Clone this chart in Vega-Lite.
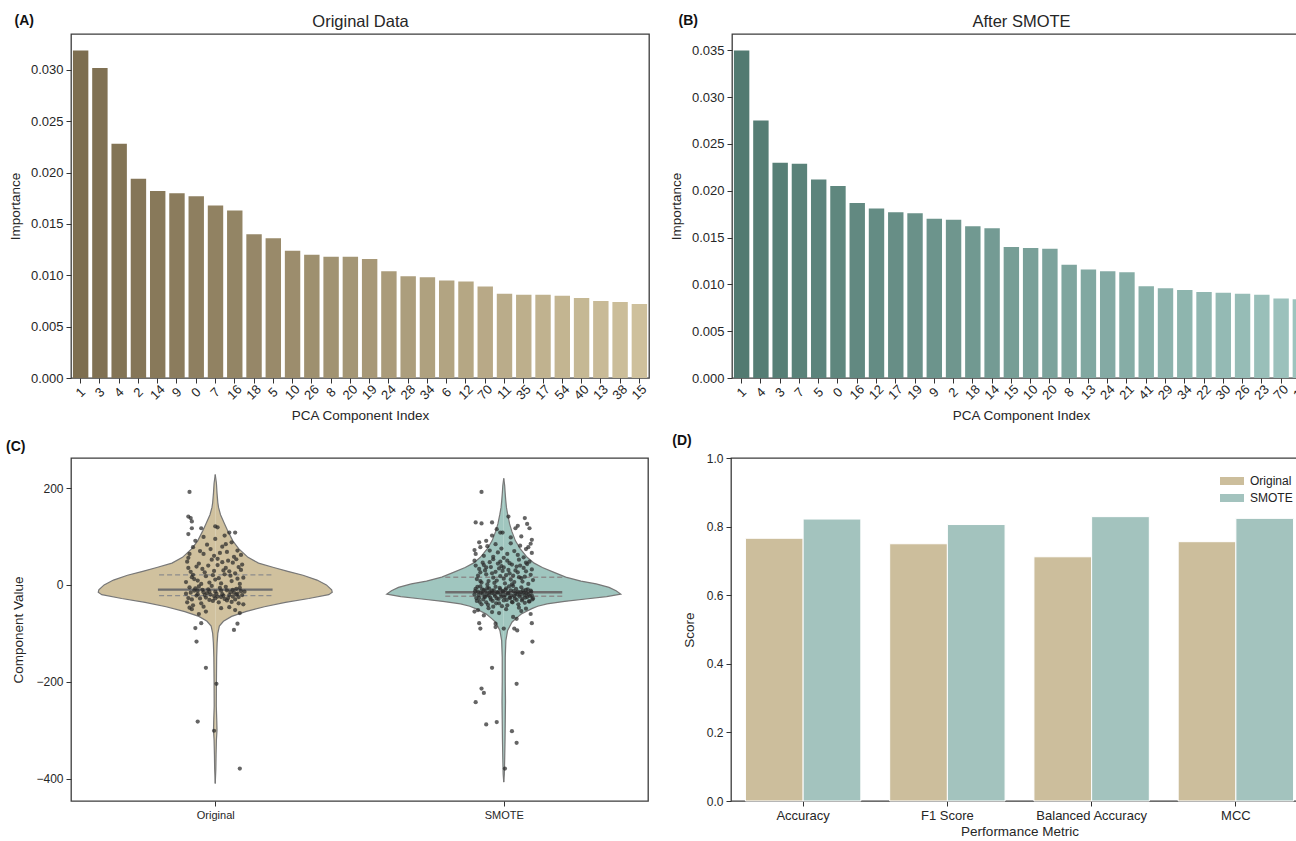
{
"$schema": "https://vega.github.io/schema/vega-lite/v6.json",
"background": "white",
"padding": {"left": 5, "top": 12, "right": 0, "bottom": 0},
"config": {
 "font": "Liberation Sans",
 "view": {"stroke": "#3d3d3d", "strokeWidth": 1.3},
 "axis": {"grid": false, "domain": false, "ticks": true, "tickColor": "#333", "tickSize": 5, "tickWidth": 1, "labelColor": "#262626", "titleColor": "#262626", "labelFontSize": 13, "titleFontSize": 13.5, "titleFontWeight": "normal", "labelPadding": 3},
 "title": {"color": "#111"}
},
"datasets": {
 "fa": [{"pc":"1","imp":0.0319},{"pc":"3","imp":0.0302},{"pc":"4","imp":0.0228},{"pc":"2","imp":0.0194},{"pc":"14","imp":0.0182},{"pc":"9","imp":0.0180},{"pc":"0","imp":0.0177},{"pc":"7","imp":0.0168},{"pc":"16","imp":0.0163},{"pc":"18","imp":0.0140},{"pc":"5","imp":0.0136},{"pc":"10","imp":0.0124},{"pc":"26","imp":0.0120},{"pc":"8","imp":0.0118},{"pc":"20","imp":0.0118},{"pc":"19","imp":0.0116},{"pc":"24","imp":0.0104},{"pc":"28","imp":0.0099},{"pc":"34","imp":0.0098},{"pc":"6","imp":0.0095},{"pc":"12","imp":0.0094},{"pc":"70","imp":0.0089},{"pc":"11","imp":0.0082},{"pc":"35","imp":0.0081},{"pc":"17","imp":0.0081},{"pc":"54","imp":0.0080},{"pc":"40","imp":0.0078},{"pc":"13","imp":0.0075},{"pc":"38","imp":0.0074},{"pc":"15","imp":0.0072}],
 "fb": [{"pc":"1","imp":0.0350},{"pc":"4","imp":0.0275},{"pc":"3","imp":0.0230},{"pc":"7","imp":0.0229},{"pc":"5","imp":0.0212},{"pc":"0","imp":0.0205},{"pc":"16","imp":0.0187},{"pc":"12","imp":0.0181},{"pc":"17","imp":0.0177},{"pc":"19","imp":0.0176},{"pc":"9","imp":0.0170},{"pc":"2","imp":0.0169},{"pc":"18","imp":0.0162},{"pc":"14","imp":0.0160},{"pc":"15","imp":0.0140},{"pc":"10","imp":0.0139},{"pc":"20","imp":0.0138},{"pc":"8","imp":0.0121},{"pc":"13","imp":0.0116},{"pc":"24","imp":0.0114},{"pc":"21","imp":0.0113},{"pc":"41","imp":0.0098},{"pc":"29","imp":0.0096},{"pc":"34","imp":0.0094},{"pc":"22","imp":0.0092},{"pc":"30","imp":0.0091},{"pc":"26","imp":0.0090},{"pc":"23","imp":0.0089},{"pc":"70","imp":0.0085},{"pc":"11","imp":0.0084}],
 "vO": [{"v":228,"w":0},{"v":210,"w":0.01},{"v":190,"w":0.015},{"v":170,"w":0.022},{"v":160,"w":0.028},{"v":145,"w":0.045},{"v":126,"w":0.08},{"v":110,"w":0.11},{"v":91,"w":0.15},{"v":75,"w":0.2},{"v":57,"w":0.28},{"v":45,"w":0.37},{"v":36,"w":0.5},{"v":28,"w":0.62},{"v":20,"w":0.75},{"v":10,"w":0.87},{"v":0,"w":0.95},{"v":-10,"w":0.995},{"v":-15,"w":1.0},{"v":-20,"w":0.97},{"v":-28,"w":0.8},{"v":-36,"w":0.6},{"v":-45,"w":0.42},{"v":-55,"w":0.26},{"v":-65,"w":0.14},{"v":-75,"w":0.07},{"v":-85,"w":0.035},{"v":-100,"w":0.022},{"v":-120,"w":0.016},{"v":-150,"w":0.012},{"v":-200,"w":0.01},{"v":-250,"w":0.009},{"v":-280,"w":0.013},{"v":-300,"w":0.015},{"v":-320,"w":0.01},{"v":-350,"w":0.007},{"v":-380,"w":0.005},{"v":-410,"w":0}],
 "vS": [{"v":220,"w":0},{"v":205,"w":0.008},{"v":190,"w":0.012},{"v":175,"w":0.017},{"v":160,"w":0.023},{"v":145,"w":0.034},{"v":126,"w":0.05},{"v":110,"w":0.07},{"v":91,"w":0.1},{"v":75,"w":0.14},{"v":57,"w":0.2},{"v":45,"w":0.26},{"v":36,"w":0.33},{"v":26,"w":0.43},{"v":16,"w":0.53},{"v":8,"w":0.66},{"v":2,"w":0.79},{"v":-5,"w":0.9},{"v":-12,"w":0.96},{"v":-19,"w":1.0},{"v":-24,"w":0.88},{"v":-29,"w":0.7},{"v":-34,"w":0.52},{"v":-39,"w":0.37},{"v":-44,"w":0.29},{"v":-49,"w":0.24},{"v":-60,"w":0.15},{"v":-70,"w":0.1},{"v":-77,"w":0.07},{"v":-94,"w":0.033},{"v":-115,"w":0.018},{"v":-150,"w":0.013},{"v":-200,"w":0.013},{"v":-240,"w":0.015},{"v":-280,"w":0.013},{"v":-320,"w":0.011},{"v":-360,"w":0.008},{"v":-390,"w":0.005},{"v":-407,"w":0}],
 "qO": [{"v":20.6,"w":0.48,"k":"q"},{"v":-9.6,"w":0.49,"k":"m"},{"v":-22,"w":0.48,"k":"q"}],
 "qS": [{"v":15.8,"w":0.5,"k":"q"},{"v":-15,"w":0.5,"k":"m"},{"v":-23.4,"w":0.5,"k":"q"}],
 "pO": [{"j":-0.24,"v":48},{"j":-0.18,"v":12},{"j":-0.11,"v":33},{"j":-0.05,"v":5},{"j":0.02,"v":41},{"j":0.08,"v":22},{"j":0.14,"v":8},{"j":0.2,"v":37},{"j":0.24,"v":15},{"j":-0.21,"v":27},{"j":-0.14,"v":44},{"j":-0.08,"v":18},{"j":-0.01,"v":29},{"j":0.05,"v":3},{"j":0.11,"v":50},{"j":0.17,"v":24},{"j":0.23,"v":42},{"j":-0.25,"v":6},{"j":-0.16,"v":38},{"j":-0.03,"v":52},{"j":0.03,"v":14},{"j":0.09,"v":35},{"j":0.15,"v":46},{"j":0.21,"v":2},{"j":-0.19,"v":21},{"j":-0.12,"v":2},{"j":-0.06,"v":40},{"j":0.0,"v":11},{"j":0.07,"v":30},{"j":0.13,"v":19},{"j":0.19,"v":13},{"j":-0.23,"v":35},{"j":-0.09,"v":26},{"j":0.12,"v":28},{"j":0.18,"v":53},{"j":-0.02,"v":20},{"j":0.06,"v":47},{"j":-0.15,"v":9},{"j":0.22,"v":31},{"j":-0.2,"v":16},
  {"j":-0.25,"v":-18},{"j":-0.22,"v":-5},{"j":-0.2,"v":-30},{"j":-0.18,"v":-12},{"j":-0.16,"v":-22},{"j":-0.14,"v":-3},{"j":-0.12,"v":-38},{"j":-0.1,"v":-15},{"j":-0.08,"v":-26},{"j":-0.06,"v":-9},{"j":-0.04,"v":-20},{"j":-0.02,"v":-33},{"j":0.0,"v":-14},{"j":0.02,"v":-24},{"j":0.04,"v":-6},{"j":0.06,"v":-19},{"j":0.08,"v":-29},{"j":0.1,"v":-11},{"j":0.12,"v":-21},{"j":0.14,"v":-35},{"j":0.16,"v":-16},{"j":0.18,"v":-8},{"j":0.2,"v":-25},{"j":0.22,"v":-13},{"j":0.24,"v":-40},{"j":-0.23,"v":-27},{"j":-0.21,"v":-16},{"j":-0.19,"v":-42},{"j":-0.17,"v":-7},{"j":-0.15,"v":-19},{"j":-0.13,"v":-28},{"j":-0.11,"v":-10},{"j":-0.09,"v":-21},{"j":-0.07,"v":-17},{"j":-0.05,"v":-31},{"j":-0.03,"v":-2},{"j":-0.01,"v":-23},{"j":0.01,"v":-18},{"j":0.03,"v":-36},{"j":0.05,"v":-12},{"j":0.07,"v":-22},{"j":0.09,"v":-4},{"j":0.11,"v":-27},{"j":0.13,"v":-15},{"j":0.15,"v":-24},{"j":0.17,"v":-30},{"j":0.19,"v":-18},{"j":0.21,"v":-6},{"j":0.23,"v":-21},{"j":0.25,"v":-14},{"j":-0.24,"v":-36},{"j":-0.1,"v":-45},{"j":0.0,"v":-28},{"j":0.1,"v":-32},{"j":0.2,"v":-38},{"j":-0.05,"v":-14},{"j":0.05,"v":-25},{"j":0.15,"v":-10},{"j":-0.15,"v":-12},{"j":0.18,"v":-20},
  {"j":-0.2,"v":-50},{"j":-0.08,"v":-55},{"j":0.05,"v":-48},{"j":0.17,"v":-52},{"j":0.21,"v":-58},{"j":-0.14,"v":-60},{"j":0.12,"v":-46},{"j":-0.22,"v":-47},
  {"j":-0.22,"v":64},{"j":-0.1,"v":64},{"j":-0.01,"v":60},{"j":0.02,"v":54},{"j":-0.04,"v":74},{"j":0.06,"v":79},{"j":0.09,"v":84},{"j":0.19,"v":71},{"j":0.14,"v":88},{"j":-0.17,"v":91},{"j":-0.19,"v":78},{"j":0.0,"v":95},{"j":0.1,"v":68},{"j":-0.07,"v":83},{"j":0.22,"v":62},{"j":-0.13,"v":70},{"j":0.04,"v":66},{"j":0.16,"v":58},{"j":-0.23,"v":56},
  {"j":-0.22,"v":192},{"j":-0.23,"v":141},{"j":-0.21,"v":138},{"j":-0.2,"v":131},{"j":-0.23,"v":105},{"j":-0.2,"v":117},{"j":-0.12,"v":117},{"j":0.0,"v":121},{"j":0.02,"v":119},{"j":0.17,"v":108},{"j":0.12,"v":108},{"j":0.08,"v":102},{"j":-0.1,"v":99},
  {"j":-0.12,"v":-79},{"j":-0.17,"v":-89},{"j":0.19,"v":-80},{"j":0.16,"v":-93},{"j":-0.16,"v":-117},{"j":-0.08,"v":-171},{"j":0.01,"v":-204},{"j":-0.15,"v":-282},{"j":-0.01,"v":-301},{"j":0.21,"v":-379}],
 "pS": [{"j":-0.19,"v":192},{"j":-0.24,"v":129},{"j":-0.19,"v":127},{"j":-0.1,"v":129},{"j":0.04,"v":141},{"j":0.18,"v":138},{"j":0.12,"v":122},{"j":0.1,"v":117},{"j":0.22,"v":117},{"j":-0.03,"v":108},{"j":-0.01,"v":108},{"j":-0.1,"v":102},{"j":0.24,"v":93},{"j":-0.15,"v":91},{"j":0.06,"v":98},{"j":0.2,"v":126},{"j":-0.06,"v":115},{"j":0.15,"v":100},
  {"j":0.21,"v":78},{"j":-0.2,"v":78},{"j":-0.07,"v":84},{"j":0.14,"v":81},{"j":-0.12,"v":71},{"j":-0.24,"v":64},{"j":0.03,"v":64},{"j":0.17,"v":57},{"j":-0.17,"v":60},{"j":-0.02,"v":75},{"j":0.09,"v":70},{"j":0.24,"v":66},{"j":-0.09,"v":58},{"j":0.06,"v":86},{"j":-0.21,"v":88},{"j":0.12,"v":62},{"j":0.19,"v":74},{"j":-0.14,"v":80},{"j":0.0,"v":56},{"j":-0.05,"v":67},{"j":0.23,"v":85},{"j":-0.25,"v":72},
  {"j":-0.25,"v":50},{"j":-0.23,"v":12},{"j":-0.21,"v":33},{"j":-0.19,"v":5},{"j":-0.17,"v":41},{"j":-0.15,"v":22},{"j":-0.13,"v":8},{"j":-0.11,"v":37},{"j":-0.09,"v":15},{"j":-0.07,"v":27},{"j":-0.05,"v":44},{"j":-0.03,"v":18},{"j":-0.01,"v":29},{"j":0.01,"v":3},{"j":0.03,"v":50},{"j":0.05,"v":24},{"j":0.07,"v":42},{"j":0.09,"v":6},{"j":0.11,"v":38},{"j":0.13,"v":52},{"j":0.15,"v":14},{"j":0.17,"v":35},{"j":0.19,"v":46},{"j":0.21,"v":2},{"j":0.23,"v":21},{"j":0.25,"v":10},{"j":-0.24,"v":40},{"j":-0.2,"v":26},{"j":-0.16,"v":30},{"j":-0.12,"v":47},{"j":-0.08,"v":4},{"j":-0.04,"v":34},{"j":0.0,"v":13},{"j":0.04,"v":31},{"j":0.08,"v":19},{"j":0.12,"v":26},{"j":0.16,"v":7},{"j":0.2,"v":43},{"j":0.24,"v":32},{"j":-0.22,"v":19},{"j":-0.18,"v":46},{"j":-0.14,"v":1},{"j":-0.1,"v":24},{"j":-0.06,"v":9},{"j":-0.02,"v":39},{"j":0.02,"v":20},{"j":0.06,"v":11},{"j":0.1,"v":30},{"j":0.14,"v":40},{"j":0.18,"v":17},{"j":0.22,"v":48},{"j":-0.09,"v":53},{"j":0.0,"v":36},{"j":0.07,"v":1},{"j":-0.2,"v":8},{"j":0.13,"v":16},{"j":-0.03,"v":48},{"j":0.19,"v":28},{"j":-0.15,"v":36},{"j":0.05,"v":45},
  {"j":-0.25,"v":-20},{"j":-0.24,"v":-8},{"j":-0.23,"v":-33},{"j":-0.22,"v":-14},{"j":-0.21,"v":-27},{"j":-0.2,"v":-3},{"j":-0.19,"v":-40},{"j":-0.18,"v":-18},{"j":-0.17,"v":-10},{"j":-0.16,"v":-25},{"j":-0.15,"v":-36},{"j":-0.14,"v":-6},{"j":-0.13,"v":-22},{"j":-0.12,"v":-15},{"j":-0.11,"v":-30},{"j":-0.1,"v":-12},{"j":-0.09,"v":-45},{"j":-0.08,"v":-19},{"j":-0.07,"v":-4},{"j":-0.06,"v":-28},{"j":-0.05,"v":-16},{"j":-0.04,"v":-38},{"j":-0.03,"v":-9},{"j":-0.02,"v":-24},{"j":-0.01,"v":-13},{"j":0.0,"v":-32},{"j":0.01,"v":-21},{"j":0.02,"v":-7},{"j":0.03,"v":-42},{"j":0.04,"v":-17},{"j":0.05,"v":-26},{"j":0.06,"v":-11},{"j":0.07,"v":-35},{"j":0.08,"v":-2},{"j":0.09,"v":-23},{"j":0.1,"v":-18},{"j":0.11,"v":-31},{"j":0.12,"v":-14},{"j":0.13,"v":-47},{"j":0.14,"v":-20},{"j":0.15,"v":-5},{"j":0.16,"v":-29},{"j":0.17,"v":-16},{"j":0.18,"v":-37},{"j":0.19,"v":-10},{"j":0.2,"v":-25},{"j":0.21,"v":-19},{"j":0.22,"v":-34},{"j":0.23,"v":-12},{"j":0.24,"v":-22},{"j":0.25,"v":-28},
  {"j":-0.245,"v":-13},{"j":-0.235,"v":-27},{"j":-0.225,"v":-4},{"j":-0.215,"v":-21},{"j":-0.205,"v":-35},{"j":-0.195,"v":-16},{"j":-0.185,"v":-9},{"j":-0.175,"v":-30},{"j":-0.165,"v":-24},{"j":-0.155,"v":-12},{"j":-0.145,"v":-19},{"j":-0.135,"v":-41},{"j":-0.125,"v":-7},{"j":-0.115,"v":-26},{"j":-0.105,"v":-17},{"j":-0.095,"v":-33},{"j":-0.085,"v":-11},{"j":-0.075,"v":-23},{"j":-0.065,"v":-38},{"j":-0.055,"v":-15},{"j":-0.045,"v":-29},{"j":-0.035,"v":-6},{"j":-0.025,"v":-20},{"j":-0.015,"v":-44},{"j":-0.005,"v":-14},{"j":0.005,"v":-25},{"j":0.015,"v":-10},{"j":0.025,"v":-31},{"j":0.035,"v":-18},{"j":0.045,"v":-3},{"j":0.055,"v":-27},{"j":0.065,"v":-22},{"j":0.075,"v":-36},{"j":0.085,"v":-13},{"j":0.095,"v":-28},{"j":0.105,"v":-8},{"j":0.115,"v":-19},{"j":0.125,"v":-40},{"j":0.135,"v":-24},{"j":0.145,"v":-15},{"j":0.155,"v":-32},{"j":0.165,"v":-11},{"j":0.175,"v":-21},{"j":0.185,"v":-26},{"j":0.195,"v":-17},{"j":0.205,"v":-9},{"j":0.215,"v":-34},{"j":0.225,"v":-23},{"j":0.235,"v":-14},{"j":0.245,"v":-30},
  {"j":-0.22,"v":-52},{"j":-0.1,"v":-56},{"j":0.02,"v":-50},{"j":0.15,"v":-54},{"j":0.23,"v":-60},{"j":-0.17,"v":-63},{"j":0.08,"v":-66},{"j":-0.04,"v":-58},{"j":0.19,"v":-49},{"j":-0.25,"v":-55},{"j":0.11,"v":-70},{"j":-0.13,"v":-48},
  {"j":-0.21,"v":-79},{"j":-0.2,"v":-90},{"j":-0.07,"v":-80},{"j":-0.07,"v":-87},{"j":0.0,"v":-90},{"j":0.09,"v":-90},{"j":0.115,"v":-94},{"j":0.24,"v":-79},{"j":0.245,"v":-117},{"j":0.16,"v":-140},{"j":-0.1,"v":-171},{"j":-0.19,"v":-214},{"j":-0.17,"v":-223},{"j":-0.24,"v":-242},{"j":0.11,"v":-204},{"j":-0.06,"v":-283},{"j":-0.15,"v":-288},{"j":0.07,"v":-302},{"j":0.11,"v":-326},{"j":0.01,"v":-379}],
 "cat": [{"g":"Original","v":0},{"g":"SMOTE","v":0}],
 "perf": [{"m":"Accuracy","g":"Original","s":0.766},{"m":"Accuracy","g":"SMOTE","s":0.822},{"m":"F1 Score","g":"Original","s":0.750},{"m":"F1 Score","g":"SMOTE","s":0.806},{"m":"Balanced Accuracy","g":"Original","s":0.712},{"m":"Balanced Accuracy","g":"SMOTE","s":0.829},{"m":"MCC","g":"Original","s":0.756},{"m":"MCC","g":"SMOTE","s":0.824}]
},
"spacing": 10,
"resolve": {"scale": {"color": "independent", "strokeDash": "independent", "strokeWidth": "independent"}},
"vconcat": [
 {"spacing": 18,
  "resolve": {"scale": {"color": "independent"}},
  "hconcat": [
  {"width": 578, "height": 344,
   "title": {"text": "(A)", "anchor": "start", "frame": "bounds", "offset": -15, "dx": 6, "fontSize": 14, "fontWeight": "bold"},
   "data": {"name": "fa"},
   "encoding": {"y": {"field": "imp", "type": "quantitative", "scale": {"domain": [0, 0.0335], "nice": false}, "axis": {"title": "Importance", "values": [0,0.005,0.01,0.015,0.02,0.025,0.03], "format": ".3f", "titlePadding": 8}}},
   "layer": [
    {"mark": {"type": "bar"}, "encoding": {
      "x": {"field": "pc", "type": "nominal", "sort": null, "scale": {"paddingInner": 0.2, "paddingOuter": 0.1}, "axis": {"title": "PCA Component Index", "labelAngle": -45, "labelAlign": "center", "labelBaseline": "middle", "labelPadding": 9, "titlePadding": 6}},
      "color": {"field": "pc", "type": "nominal", "legend": null, "scale": {
        "domain": ["1","3","4","2","14","9","0","7","16","18","5","10","26","8","20","19","24","28","34","6","12","70","11","35","17","54","40","13","38","15"],
        "range": ["#7d6e50","#807153","#837455","#857658","#88795a","#8b7c5d","#8e7f60","#918262","#938565","#968768","#998a6a","#9c8d6d","#9e906f","#a19372","#a49675","#a79877","#aa9b7a","#ac9e7d","#afa17f","#b2a482","#b5a784","#b8a987","#baac8a","#bdaf8c","#c0b28f","#c3b591","#c5b894","#c8ba97","#cbbd99","#cec09c"]}}}},
    {"mark": {"type": "point", "opacity": 0}, "encoding": {
      "x": {"field": "pc", "type": "nominal", "sort": null, "axis": {"orient": "top", "title": "Original Data", "labels": false, "ticks": false, "titleFontSize": 16.5, "titlePadding": 5}}}}
   ],
   "resolve": {"axis": {"x": "independent"}}
  },
  {"width": 578, "height": 344,
   "title": {"text": "(B)", "anchor": "start", "frame": "bounds", "offset": -15, "dx": 9, "fontSize": 14, "fontWeight": "bold"},
   "data": {"name": "fb"},
   "encoding": {"y": {"field": "imp", "type": "quantitative", "scale": {"domain": [0, 0.03675], "nice": false}, "axis": {"title": "Importance", "values": [0,0.005,0.01,0.015,0.02,0.025,0.03,0.035], "format": ".3f", "titlePadding": 8}}},
   "layer": [
    {"mark": {"type": "bar"}, "encoding": {
      "x": {"field": "pc", "type": "nominal", "sort": null, "scale": {"paddingInner": 0.2, "paddingOuter": 0.1}, "axis": {"title": "PCA Component Index", "labelAngle": -45, "labelAlign": "center", "labelBaseline": "middle", "labelPadding": 9, "titlePadding": 6}},
      "color": {"field": "pc", "type": "nominal", "legend": null, "scale": {
        "domain": ["1","4","3","7","5","0","16","12","17","19","9","2","18","14","15","10","20","8","13","24","21","41","29","34","22","30","26","23","70","11"],
        "range": ["#527a71","#557d74","#577f76","#5a8279","#5c847c","#5f877e","#628981","#648c84","#678e86","#6a9189","#6c948c","#6f968e","#719991","#749b94","#779e96","#79a099","#7ca39c","#7fa59e","#81a8a1","#84aaa4","#86ada6","#89b0a9","#8cb2ac","#8eb5ae","#91b7b1","#94bab4","#96bcb6","#99bfb9","#9bc1bc","#9ec4be"]}}}},
    {"mark": {"type": "point", "opacity": 0}, "encoding": {
      "x": {"field": "pc", "type": "nominal", "sort": null, "axis": {"orient": "top", "title": "After SMOTE", "labels": false, "ticks": false, "titleFontSize": 16.5, "titlePadding": 5}}}}
   ],
   "resolve": {"axis": {"x": "independent"}}
  }
 ]},
 {"spacing": 22,
  "resolve": {"scale": {"color": "independent"}},
  "hconcat": [
  {"width": 577, "height": 343,
   "title": {"text": "(C)", "anchor": "start", "frame": "bounds", "dx": -6, "fontSize": 14, "fontWeight": "bold"},
   "encoding": {"y": {"field": "v", "type": "quantitative", "scale": {"domain": [-446, 262], "nice": false, "zero": false}, "axis": {"title": "Component Value", "values": [-400,-200,0,200], "labelFontSize": 12, "titlePadding": 10}}},
   "layer": [
    {"data": {"name": "vO"}, "mark": {"type": "area", "orient": "horizontal", "color": "#d0c19e", "opacity": 1}, "encoding": {"x": {"field": "w", "type": "quantitative", "stack": null, "scale": {"domain": [-1.233, 3.699], "nice": false, "zero": false}, "axis": null}, "x2": {"datum": 0}}},
    {"data": {"name": "vO"}, "mark": {"type": "area", "orient": "horizontal", "color": "#d0c19e", "opacity": 1}, "encoding": {"x": {"field": "w", "type": "quantitative", "stack": null, "scale": {"domain": [-3.699, 1.233], "nice": false, "zero": false, "reverse": true}, "axis": null}, "x2": {"datum": 0}}},
    {"data": {"name": "vS"}, "mark": {"type": "area", "orient": "horizontal", "color": "#a0c6bf", "opacity": 1}, "encoding": {"x": {"field": "w", "type": "quantitative", "stack": null, "scale": {"domain": [-3.699, 1.233], "nice": false, "zero": false}, "axis": null}, "x2": {"datum": 0}}},
    {"data": {"name": "vS"}, "mark": {"type": "area", "orient": "horizontal", "color": "#a0c6bf", "opacity": 1}, "encoding": {"x": {"field": "w", "type": "quantitative", "stack": null, "scale": {"domain": [-1.233, 3.699], "nice": false, "zero": false, "reverse": true}, "axis": null}, "x2": {"datum": 0}}},
    {"data": {"name": "vO"}, "mark": {"type": "line", "color": "#777777", "strokeWidth": 1.2}, "encoding": {"x": {"field": "w", "type": "quantitative", "scale": {"domain": [-1.233, 3.699], "nice": false, "zero": false}, "axis": null}, "order": {"field": "v", "type": "quantitative"}}},
    {"data": {"name": "vO"}, "mark": {"type": "line", "color": "#777777", "strokeWidth": 1.2}, "encoding": {"x": {"field": "w", "type": "quantitative", "scale": {"domain": [-3.699, 1.233], "nice": false, "zero": false, "reverse": true}, "axis": null}, "order": {"field": "v", "type": "quantitative"}}},
    {"data": {"name": "vS"}, "mark": {"type": "line", "color": "#777777", "strokeWidth": 1.2}, "encoding": {"x": {"field": "w", "type": "quantitative", "scale": {"domain": [-3.699, 1.233], "nice": false, "zero": false}, "axis": null}, "order": {"field": "v", "type": "quantitative"}}},
    {"data": {"name": "vS"}, "mark": {"type": "line", "color": "#777777", "strokeWidth": 1.2}, "encoding": {"x": {"field": "w", "type": "quantitative", "scale": {"domain": [-1.233, 3.699], "nice": false, "zero": false, "reverse": true}, "axis": null}, "order": {"field": "v", "type": "quantitative"}}},
    {"data": {"name": "qO"}, "mark": {"type": "rule"}, "encoding": {"x": {"field": "w", "type": "quantitative", "scale": {"domain": [-1.233, 3.699], "nice": false, "zero": false}, "axis": null}, "x2": {"datum": 0}, "strokeDash": {"field": "k", "type": "nominal", "scale": {"domain": ["m","q"], "range": [[1,0],[5,3]]}, "legend": null}, "strokeWidth": {"field": "k", "type": "ordinal", "scale": {"domain": ["m","q"], "range": [2.4,1.3]}, "legend": null}, "color": {"field": "k", "type": "nominal", "scale": {"domain": ["m","q"], "range": ["#6e6e6e","#8c8c8c"]}, "legend": null}}},
    {"data": {"name": "qO"}, "mark": {"type": "rule"}, "encoding": {"x": {"field": "w", "type": "quantitative", "scale": {"domain": [-3.699, 1.233], "nice": false, "zero": false, "reverse": true}, "axis": null}, "x2": {"datum": 0}, "strokeDash": {"field": "k", "type": "nominal", "legend": null}, "strokeWidth": {"field": "k", "type": "ordinal", "legend": null}, "color": {"field": "k", "type": "nominal", "legend": null}}},
    {"data": {"name": "qS"}, "mark": {"type": "rule"}, "encoding": {"x": {"field": "w", "type": "quantitative", "scale": {"domain": [-3.699, 1.233], "nice": false, "zero": false}, "axis": null}, "x2": {"datum": 0}, "strokeDash": {"field": "k", "type": "nominal", "legend": null}, "strokeWidth": {"field": "k", "type": "ordinal", "legend": null}, "color": {"field": "k", "type": "nominal", "legend": null}}},
    {"data": {"name": "qS"}, "mark": {"type": "rule"}, "encoding": {"x": {"field": "w", "type": "quantitative", "scale": {"domain": [-1.233, 3.699], "nice": false, "zero": false, "reverse": true}, "axis": null}, "x2": {"datum": 0}, "strokeDash": {"field": "k", "type": "nominal", "legend": null}, "strokeWidth": {"field": "k", "type": "ordinal", "legend": null}, "color": {"field": "k", "type": "nominal", "legend": null}}},
    {"data": {"name": "pO"}, "mark": {"type": "circle", "size": 18, "color": "#2a2a2a", "opacity": 0.72}, "encoding": {"x": {"field": "j", "type": "quantitative", "scale": {"domain": [-1.233, 3.699], "nice": false, "zero": false}, "axis": null}}},
    {"data": {"name": "pS"}, "mark": {"type": "circle", "size": 18, "color": "#2a2a2a", "opacity": 0.72}, "encoding": {"x": {"field": "j", "type": "quantitative", "scale": {"domain": [-3.699, 1.233], "nice": false, "zero": false}, "axis": null}}},
    {"data": {"name": "cat"}, "mark": {"type": "point", "opacity": 0}, "encoding": {"x": {"field": "g", "type": "nominal", "scale": {"type": "point", "padding": 0.5}, "axis": {"title": null, "labelAngle": 0, "labelFontSize": 11, "labelPadding": 3}}}}
   ],
   "resolve": {"scale": {"x": "independent"}}
  },
  {"width": 577, "height": 343,
   "title": {"text": "(D)", "anchor": "start", "frame": "bounds", "dx": -10, "fontSize": 14, "fontWeight": "bold"},
   "data": {"name": "perf"},
   "mark": {"type": "bar", "stroke": "white", "strokeWidth": 1},
   "encoding": {
    "x": {"field": "m", "type": "nominal", "sort": null, "scale": {"paddingInner": 0.2, "paddingOuter": 0.1}, "axis": {"title": "Performance Metric", "labelAngle": 0, "labelFontSize": 13, "titlePadding": 2}},
    "xOffset": {"field": "g", "type": "nominal", "scale": {"paddingInner": 0, "paddingOuter": 0}},
    "y": {"field": "s", "type": "quantitative", "scale": {"domain": [0, 1], "nice": false}, "axis": {"title": "Score", "values": [0,0.2,0.4,0.6,0.8,1.0], "format": ".1f", "labelFontSize": 12, "titlePadding": 10}},
    "color": {"field": "g", "type": "nominal", "scale": {"domain": ["Original","SMOTE"], "range": ["#ccbe9c","#a3c3be"]}, "legend": {"orient": "top-right", "title": null, "offset": 15, "labelFontSize": 12, "labelColor": "#222", "symbolType": "M-1.5,-0.5H1.5V0.5H-1.5Z", "symbolSize": 256, "symbolStrokeWidth": 0, "symbolOpacity": 1, "rowPadding": 3, "labelOffset": 10}}
   }
  }
 ]}
]
}
